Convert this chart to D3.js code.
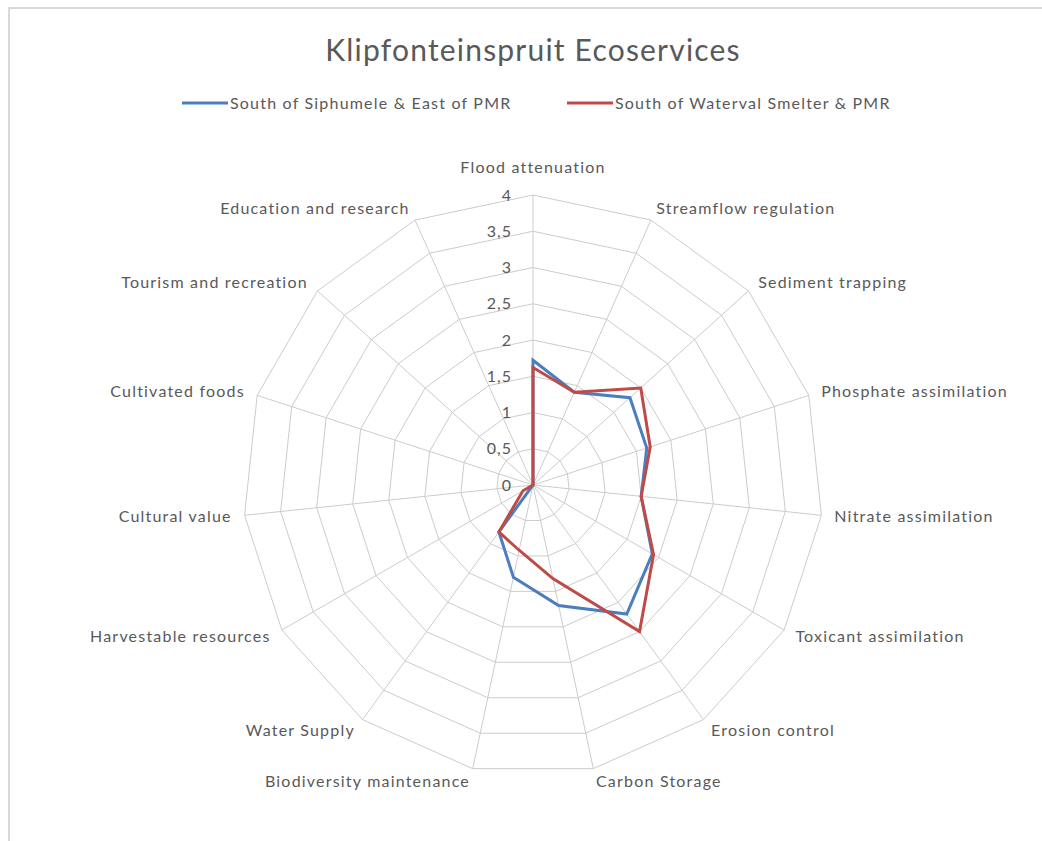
<!DOCTYPE html>
<html>
<head>
<meta charset="utf-8">
<script src="https://cdn.jsdelivr.net/npm/d3@7"></script>
<style>
  body { margin: 0; background: #fff; }
  text { font-family: Lato, "Open Sans", sans-serif; fill: #595959; }
</style>
</head>
<body>
<svg width="1042" height="841"></svg>
<script>
var categories = ["Flood attenuation", "Streamflow regulation", "Sediment trapping",
  "Phosphate assimilation", "Nitrate assimilation", "Toxicant assimilation",
  "Erosion control", "Carbon Storage", "Biodiversity maintenance", "Water Supply",
  "Harvestable resources", "Cultural value", "Cultivated foods",
  "Tourism and recreation", "Education and research"];

var siphumele = [1.72, 1.4, 1.8, 1.65, 1.5, 1.9, 2.2, 1.7, 1.3, 0.8, 0, 0, 0, 0, 0];
var waterval = [1.62, 1.4, 2.0, 1.7, 1.5, 1.92, 2.5, 1.32, 0.92, 0.8, 0.16, 0, 0, 0, 0];

var series = [
  {name: "South of Siphumele & East of PMR", values: siphumele, color: "#4a7ebf"},
  {name: "South of Waterval Smelter & PMR", values: waterval, color: "#be4b48"}
];

var tickValues = [0, 0.5, 1, 1.5, 2, 2.5, 3, 3.5, 4];

var svg = d3.select("svg");
var cx = 533, cy = 485, R = 290;

// chart border
svg.append("rect")
    .attr("x", 9).attr("y", 8)
    .attr("width", 1100).attr("height", 900)
    .attr("fill", "none")
    .attr("stroke", "#d9d9d9")
    .attr("stroke-width", 2);

var r = d3.scaleLinear().domain([0, 4]).range([0, R]);
var angle = d3.scalePoint().domain(categories).range([0, 2 * Math.PI * (1 - 1 / categories.length)]);

function pt(cat, v) {
  var a = angle(cat);
  return [cx + r(v) * Math.sin(a), cy - r(v) * Math.cos(a)];
}

var g = svg.append("g");

// rings
tickValues.slice(1).forEach(function(t) {
  g.append("polygon")
      .attr("points", categories.map(function(c) { return pt(c, t).join(","); }).join(" "))
      .attr("fill", "none")
      .attr("stroke", "#cccccc")
      .attr("stroke-width", 1);
});

// spokes
g.selectAll(".spoke")
  .data(categories)
  .enter()
  .append("line")
    .attr("x1", cx).attr("y1", cy)
    .attr("x2", function(d) { return pt(d, 4)[0]; })
    .attr("y2", function(d) { return pt(d, 4)[1]; })
    .attr("stroke", "#cccccc")
    .attr("stroke-width", 1);

// tick labels
var fmt = function(d) { return String(d).replace(".", ","); };
g.selectAll(".tick")
  .data(tickValues)
  .enter()
  .append("text")
    .attr("x", cx - 21)
    .attr("y", function(d) { return cy - r(d); })
    .attr("dy", "0.35em")
    .attr("text-anchor", "end")
    .style("font-size", "16px")
    .style("letter-spacing", "1px")
    .text(fmt);

// category labels
g.selectAll(".cat")
  .data(categories)
  .enter()
  .append("text")
    .attr("x", function(d) { return cx + (R + 13) * Math.sin(angle(d)); })
    .attr("y", function(d) {
      var y = cy - (R + 13) * Math.cos(angle(d));
      return angle(d) === 0 ? y - 15 : y;
    })
    .attr("dy", "0.35em")
    .attr("text-anchor", function(d) {
      var s = Math.sin(angle(d));
      return s > 0.01 ? "start" : (s < -0.01 ? "end" : "middle");
    })
    .style("font-size", "16px")
    .style("letter-spacing", "1.2px")
    .text(function(d) { return d; });

// series lines
var line = d3.line().curve(d3.curveLinearClosed);
g.selectAll(".series")
  .data(series)
  .enter()
  .append("path")
    .attr("d", function(s) {
      return line(categories.map(function(c, i) { return pt(c, s.values[i]); }));
    })
    .attr("fill", "none")
    .attr("stroke", function(s) { return s.color; })
    .attr("stroke-width", 3)
    .attr("stroke-linejoin", "miter");

// title
svg.append("text")
    .attr("x", 533).attr("y", 50)
    .attr("dy", "0.35em")
    .attr("text-anchor", "middle")
    .style("font-size", "30px")
    .style("letter-spacing", "1.2px")
    .text("Klipfonteinspruit Ecoservices");

// legend
var legendX = [182, 567];
var lg = svg.selectAll(".legend")
  .data(series)
  .enter()
  .append("g")
    .attr("transform", function(d, i) { return "translate(" + legendX[i] + ",103)"; });
lg.append("line")
    .attr("x1", 0).attr("x2", 46)
    .attr("stroke", function(d) { return d.color; })
    .attr("stroke-width", 3);
lg.append("text")
    .attr("x", 48)
    .attr("dy", "0.35em")
    .style("font-size", "16px")
    .style("letter-spacing", "1.2px")
    .text(function(d) { return d.name; });
</script>
</body>
</html>
